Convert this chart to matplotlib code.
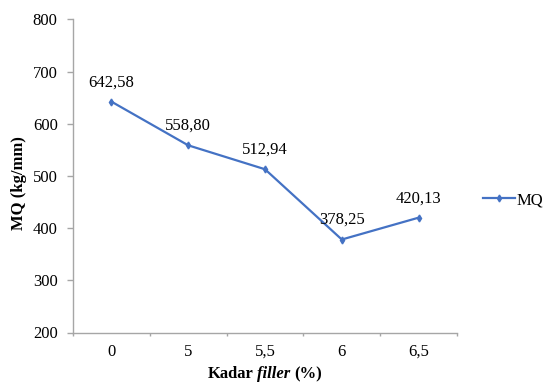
import matplotlib
matplotlib.use("Agg")
import matplotlib.pyplot as plt
from matplotlib.lines import Line2D

plt.rcParams["font.family"] = ["Liberation Serif", "DejaVu Serif"]

# data
kadar_filler = ["0", "5", "5,5", "6", "6,5"]
mq_values = [642.58, 558.80, 512.94, 378.25, 420.13]
mq_labels = ["642,58", "558,80", "512,94", "378,25", "420,13"]

LINE_BLUE = "#4472C4"
AXIS_GREY = "#A6A6A6"
FS = 12

fig = plt.figure(figsize=(5.51, 3.83), dpi=100)
ax = fig.add_axes([73 / 551, 1 - 332.5 / 383, (457 - 73) / 551, (332.5 - 19.5) / 383])

x = list(range(len(kadar_filler)))
ax.plot(x, mq_values, color=LINE_BLUE, lw=1.6, marker="d", markersize=3.5)

for xi, yi, lab in zip(x, mq_values, mq_labels):
    ax.annotate(lab, (xi, yi), xytext=(0, 14), textcoords="offset points",
                ha="center", va="center", fontsize=FS)

ax.set_xlim(-0.5, len(kadar_filler) - 0.5)
ax.set_ylim(200, 800)
ax.set_yticks(range(200, 801, 100))
ax.set_xticks(x)
ax.set_xticklabels(kadar_filler)
ax.set_xticks([i - 0.5 for i in range(len(kadar_filler) + 1)], minor=True)

for side in ["top", "right"]:
    ax.spines[side].set_visible(False)
for side in ["left", "bottom"]:
    ax.spines[side].set_color(AXIS_GREY)
    ax.spines[side].set_linewidth(1.0)

ax.tick_params(axis="y", direction="out", length=4, width=1, color=AXIS_GREY,
               pad=7, labelsize=FS)
ax.tick_params(axis="x", which="major", length=0, pad=8, labelsize=FS)
ax.tick_params(axis="x", which="minor", direction="out", length=2.5, width=1, color=AXIS_GREY)

# y label
fig.text(19 / 551, 1 - 183 / 383, "MQ (kg/mm)", rotation=90, ha="center", va="center",
         fontsize=FS, fontweight="bold")

# x label with italic "filler", centred under the axes
parts = [("Kadar", "normal"), ("filler", "italic"), ("(%)", "normal")]
texts = []
for txt, style in parts:
    texts.append(fig.text(0, 1 - 374 / 383, txt, ha="left", va="center", fontsize=FS,
                          fontweight="bold", fontstyle=style))
fig.canvas.draw()
renderer = fig.canvas.get_renderer()
gap = 3.5
widths = [t.get_window_extent(renderer).width for t in texts]
total = sum(widths) + gap * (len(widths) - 1)
start = 265 - total / 2
for t, w in zip(texts, widths):
    t.set_x(start / 551)
    start += w + gap

handle = Line2D([], [], color=LINE_BLUE, lw=1.6, marker="d", markersize=3.5)
fig.legend([handle], ["MQ"], loc="center left", bbox_to_anchor=(483 / 551, 1 - 200 / 383),
           frameon=False, fontsize=FS, handlelength=1.9, handletextpad=0.1,
           borderpad=0, borderaxespad=0)

fig.savefig("out.png", dpi=100)
